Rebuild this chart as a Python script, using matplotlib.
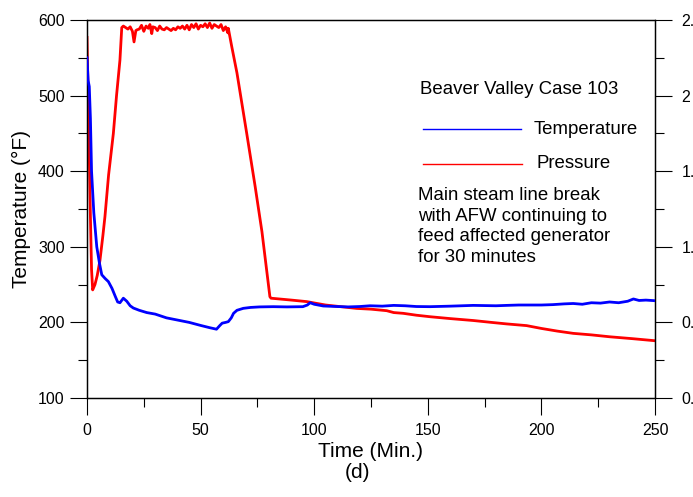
import matplotlib
matplotlib.use("Agg")
import matplotlib.pyplot as plt
from matplotlib.lines import Line2D
from matplotlib.ticker import MultipleLocator, FixedLocator

plt.rcParams['font.family'] = ['Liberation Sans', 'DejaVu Sans']

# Steam generator temperature (deg F) vs time (min)
temp_time = [0, 0.5, 1, 1.5, 2, 3, 4.3, 5.5, 6.5, 8, 9.4, 11, 12.5, 13.5, 14.5, 16, 17.5,
             19, 20.4, 23, 26.3, 30, 35, 40, 45, 50, 54, 57, 58.5, 59.5, 61, 62.2, 63.5,
             64.5, 66, 68.8, 72, 76, 82, 88, 95, 97, 98.2, 100, 104, 110, 115, 120, 124.6,
             130, 135, 140, 145, 151, 160, 170, 180, 184.7, 190, 200, 205, 210, 214, 218,
             222, 226, 230, 234, 238, 240.5, 243, 246, 250]
temperature = [550, 520, 512, 470, 400, 345, 300, 278, 263, 258, 254, 245, 234, 227, 226,
               232, 228, 222, 219, 216, 213, 211, 206, 203, 200, 196, 193, 191, 196, 199,
               200, 201, 206, 212, 216, 218.6, 219.8, 220.5, 220.8, 220.5, 220.8, 223, 226,
               224, 221.7, 221, 220.5, 221, 222, 221.5, 222.5, 222, 221, 220.8, 221.5,
               222.5, 222, 222.5, 223, 223, 223.5, 224.5, 225, 224, 226, 225.5, 227, 226,
               228, 231, 229, 229.5, 228.7]

# Pressure (1000 psia) vs time (min)
pres_time = [0, 0.5, 1, 1.5, 2, 2.5, 3.5, 4.5, 5.7, 7, 7.9, 9.5, 11.6, 13, 14.5, 15.3,
             16, 17, 18, 19, 20, 20.7, 21.5, 22, 23, 24, 25, 26, 27, 27.7, 28.5, 29, 30,
             31, 32, 33, 34, 35, 36, 37, 38, 39, 40, 41, 42, 43, 44, 45, 46, 47, 48, 49,
             50, 51, 52, 53, 54, 55, 56, 57, 58, 59, 60, 61, 62, 62.2,
             63.7, 66, 70.3, 74, 77, 80.5, 81, 90, 96.7, 105, 118.7, 125, 131.9, 135,
             139.2, 145, 151, 160, 170, 178, 184.7, 193.5, 200, 207, 214, 222, 230, 240, 250]
pressure = [2.308, 2.000, 1.680, 1.360, 1.080, 0.972, 1.000, 1.048, 1.128, 1.260, 1.360,
            1.580, 1.800, 2.000, 2.188, 2.360,
            2.368, 2.360, 2.352, 2.364, 2.340, 2.284, 2.344, 2.348, 2.352, 2.372, 2.340,
            2.368, 2.356, 2.376, 2.328, 2.364, 2.360, 2.344, 2.368, 2.352, 2.348, 2.360,
            2.352, 2.344, 2.356, 2.348, 2.364, 2.356, 2.368, 2.352, 2.372, 2.348, 2.376,
            2.360, 2.380, 2.352, 2.372, 2.364, 2.380, 2.360, 2.384, 2.356, 2.376, 2.368,
            2.360, 2.376, 2.344, 2.364, 2.332, 2.356,
            2.260, 2.120, 1.800, 1.520, 1.280, 0.936, 0.928, 0.918, 0.910, 0.892, 0.874,
            0.870, 0.862, 0.852, 0.848, 0.838, 0.830, 0.820, 0.810, 0.800, 0.792, 0.783,
            0.768, 0.754, 0.742, 0.734, 0.724, 0.714, 0.703]

W, H = 693, 497
fig = plt.figure(figsize=(W / 100, H / 100), dpi=100)
ax = fig.add_axes([87 / W, 1 - 398 / H, 568 / W, 378 / H])
ax2 = ax.twinx()

ax.plot(temp_time, temperature, color='#0000ff', lw=2.0, zorder=3)
ax2.plot(pres_time, pressure, color='#ff0000', lw=2.0, zorder=2)

ax.set_xlim(0, 250)
ax.set_ylim(100, 600)
ax2.set_ylim(0.4, 2.4)

ax.xaxis.set_major_locator(MultipleLocator(50))
ax.xaxis.set_minor_locator(MultipleLocator(25))
ax.yaxis.set_major_locator(MultipleLocator(100))
ax.yaxis.set_minor_locator(MultipleLocator(50))
ax2.yaxis.set_major_locator(FixedLocator([0.4, 0.8, 1.2, 1.6, 2.0, 2.4]))
ax2.yaxis.set_minor_locator(FixedLocator([0.6, 1.0, 1.4, 1.8, 2.2]))
ax2.set_yticklabels(['0.4', '0.8', '1.2', '1.6', '2', '2.4'])

for a in (ax, ax2):
    a.tick_params(which='major', direction='out', length=12, width=0.8,
                  labelsize=11.5, color='black')
    a.tick_params(which='minor', direction='out', length=6.5, width=0.8, color='black')
    for s in a.spines.values():
        s.set_linewidth(0.9)
ax.tick_params(axis='y', pad=4)
ax.tick_params(axis='x', pad=6)
ax2.tick_params(axis='y', pad=7)
ax.set_zorder(ax2.get_zorder() + 1)
ax.patch.set_visible(False)

ax.set_xlabel('Time (Min.)', fontsize=15, labelpad=3)
ax.set_ylabel('Temperature (°F)', fontsize=15, labelpad=5)
fig.text(357 / W, 1 - 473 / H, '(d)', fontsize=15, ha='center', va='center')

# Legend block
fig.text(420 / W, 1 - 90 / H, 'Beaver Valley Case 103', fontsize=13.4, va='center')
fig.add_artist(Line2D([423 / W, 521 / W], [1 - 129 / H] * 2, color='#0000ff', lw=1.0))
fig.text(534 / W, 1 - 129 / H, 'Temperature', fontsize=13.4, va='center')
fig.add_artist(Line2D([423 / W, 522 / W], [1 - 164 / H] * 2, color='#ff0000', lw=1.0))
fig.text(537 / W, 1 - 164 / H, 'Pressure', fontsize=13.4, va='center')
fig.text(418 / W, 1 - 187 / H,
         'Main steam line break\nwith AFW continuing to\nfeed affected generator\nfor 30 minutes',
         fontsize=13.4, va='top', linespacing=1.28)

fig.savefig('out.png', dpi=100)
